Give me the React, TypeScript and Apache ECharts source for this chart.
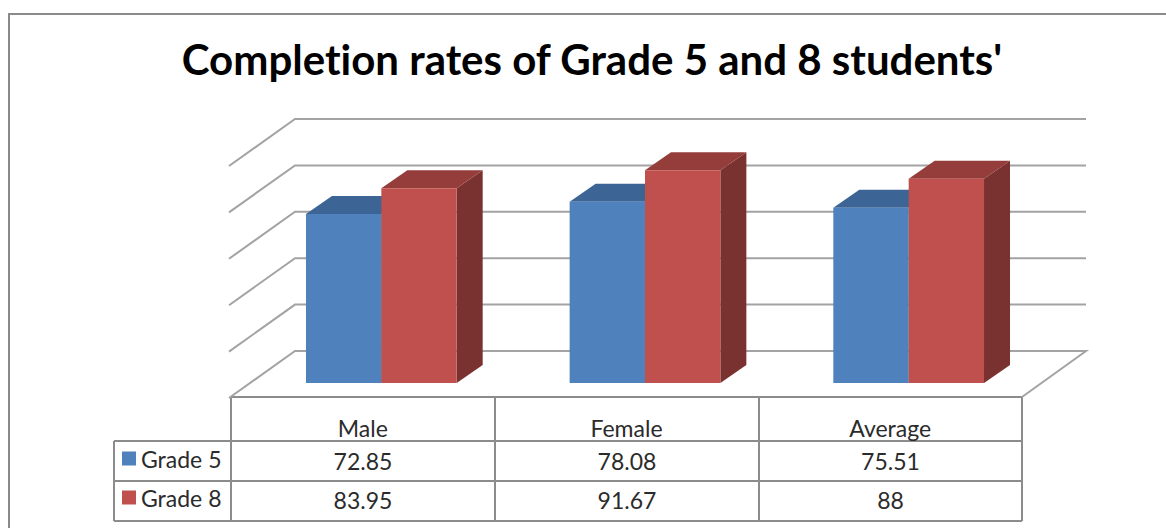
import React, { useEffect, useRef } from "react";
import * as echarts from "echarts";

const titleText = "Completion rates of Grade 5 and 8 students'";
const categories = ["Male", "Female", "Average"];
const grade5 = [72.85, 78.08, 75.51];
const grade8 = [83.95, 91.67, 88];
const grade5Labels = ["72.85", "78.08", "75.51"];
const grade8Labels = ["83.95", "91.67", "88"];
const yTicks = [0, 20, 40, 60, 80, 100];

const FONT = "Lato, 'Open Sans', sans-serif";
const LINE = "#a3a3a3";
const TABLE_LINE = "#8c8c8c";
const TEXT = "#2b2b2b";
const TEXT_SIZE = 23;
const DEPTH_X = 64;
const DEPTH_Y = 46;
const BAR_SHIFT_X = 18.5;
const BAR_SHIFT_Y = 14;
const BAR_DEPTH_X = 26;
const BAR_DEPTH_Y = 18;
const BAR_RATIO = 0.2858;

const GRID = { left: 231, right: 144, top: 165, bottom: 131 };
const tableX = [231, 495, 759, 1022];
const tableY = [397, 441, 481, 521];
const tableLeft = 114;

const wallItem = (params: any, api: any) => {
  const cs = params.coordSys;
  const y = api.coord([0, api.value(0)])[1];
  const left = cs.x;
  const right = cs.x + cs.width;
  const pts = [
    [left - 2, y + 1],
    [left + DEPTH_X, y - DEPTH_Y],
    [right + DEPTH_X, y - DEPTH_Y],
  ];
  if (api.value(0) === 0) pts.push([right, y]);
  return {
    type: "polyline",
    shape: { points: pts },
    style: { stroke: LINE, lineWidth: 2, fill: "none" },
  };
};

const barItem = (sign: number, front: string, top: string, side: string) => (params: any, api: any) => {
  const idx = api.value(0);
  const val = api.value(1);
  const p0 = api.coord([idx, 0]);
  const p1 = api.coord([idx, val]);
  const w = api.size([1, 0])[0] * BAR_RATIO;
  const cx = p0[0] + BAR_SHIFT_X;
  const x0 = sign < 0 ? cx - w : cx;
  const x1 = x0 + w;
  const yb = p0[1] - BAR_SHIFT_Y;
  const yt = p1[1] - BAR_SHIFT_Y;
  return {
    type: "group",
    children: [
      {
        type: "polygon",
        shape: { points: [[x1, yb], [x1 + BAR_DEPTH_X, yb - BAR_DEPTH_Y], [x1 + BAR_DEPTH_X, yt - BAR_DEPTH_Y], [x1, yt]] },
        style: { fill: side },
      },
      {
        type: "polygon",
        shape: { points: [[x0, yt], [x0 + BAR_DEPTH_X, yt - BAR_DEPTH_Y], [x1 + BAR_DEPTH_X, yt - BAR_DEPTH_Y], [x1, yt]] },
        style: { fill: top },
      },
      { type: "rect", shape: { x: x0, y: yt, width: w, height: yb - yt }, style: { fill: front } },
    ],
  };
};

const line = (x1: number, y1: number, x2: number, y2: number, stroke = TABLE_LINE, lineWidth = 2) => ({
  type: "line",
  shape: { x1, y1, x2, y2 },
  style: { stroke, lineWidth },
  silent: true,
});

const cell = (text: string, x: number, y: number) => ({
  type: "text",
  x,
  y,
  style: { text, font: `${TEXT_SIZE}px ${FONT}`, fill: TEXT, align: "center", verticalAlign: "middle" },
  silent: true,
});

export default function App() {
  const ref = useRef<HTMLDivElement>(null);
  useEffect(() => {
    document.body.style.margin = "0";
    const chart = echarts.init(ref.current!, null, { renderer: "svg" });
    const tableLines = [
      ...tableX.map((x) => line(x, tableY[0], x, tableY[3])),
      line(tableLeft, tableY[1], tableLeft, tableY[3]),
      line(tableX[0], tableY[0], tableX[3], tableY[0]),
      line(tableLeft, tableY[1], tableX[3], tableY[1]),
      line(tableLeft, tableY[2], tableX[3], tableY[2]),
      line(tableLeft, tableY[3], tableX[3], tableY[3]),
    ];
    const cells = categories.flatMap((_, i) => {
      const cx = (tableX[i] + tableX[i + 1]) / 2;
      return [cell(grade5Labels[i], cx, 461), cell(grade8Labels[i], cx, 500)];
    });
    chart.setOption({
      animation: false,
      backgroundColor: "#ffffff",
      title: {
        text: titleText,
        left: 587,
        top: 33,
        textAlign: "center",
        textStyle: { fontFamily: FONT, fontWeight: "bold", fontSize: 42, color: "#000000" },
      },
      legend: {
        orient: "vertical",
        left: 122,
        top: 447,
        itemWidth: 14,
        itemHeight: 14,
        itemGap: 16,
        icon: "rect",
        data: ["Grade 5", "Grade 8"],
        textStyle: { fontFamily: FONT, fontSize: TEXT_SIZE, color: TEXT, padding: [0, 0, 5, 0] },
        padding: 0,
      },
      grid: GRID,
      xAxis: {
        type: "category",
        data: categories,
        axisLine: { show: false },
        axisTick: { show: false },
        axisLabel: { fontFamily: FONT, fontSize: TEXT_SIZE, color: TEXT, margin: 19 },
      },
      yAxis: { type: "value", min: 0, max: 100, interval: 20, show: false },
      series: [
        {
          type: "custom",
          name: "wall",
          data: yTicks.map((t) => [t]),
          encode: { y: 0 },
          renderItem: wallItem,
          silent: true,
          z: 1,
        },
        {
          type: "custom",
          name: "Grade 5",
          itemStyle: { color: "#4f81bd" },
          data: grade5.map((v, i) => [i, v]),
          encode: { x: 0, y: 1 },
          renderItem: barItem(-1, "#4f81bd", "#3c6494", "#3c6494"),
          z: 3,
        },
        {
          type: "custom",
          name: "Grade 8",
          itemStyle: { color: "#c0504d" },
          data: grade8.map((v, i) => [i, v]),
          encode: { x: 0, y: 1 },
          renderItem: barItem(1, "#c0504d", "#943d3a", "#7a3230"),
          z: 4,
        },
      ],
      graphic: [
        {
          type: "polyline",
          shape: { points: [[1166, 14], [9, 14], [9, 528]] },
          style: { stroke: "#8a8a8a", lineWidth: 2, fill: "none" },
          silent: true,
          z: 0,
        },
        ...tableLines,
        ...cells,
      ],
    });
    return () => chart.dispose();
  }, []);
  return (
    <>
      <style>{"text{font-variant-ligatures:none}"}</style>
      <div ref={ref} style={{ width: 1166, height: 528 }} />
    </>
  );
}
